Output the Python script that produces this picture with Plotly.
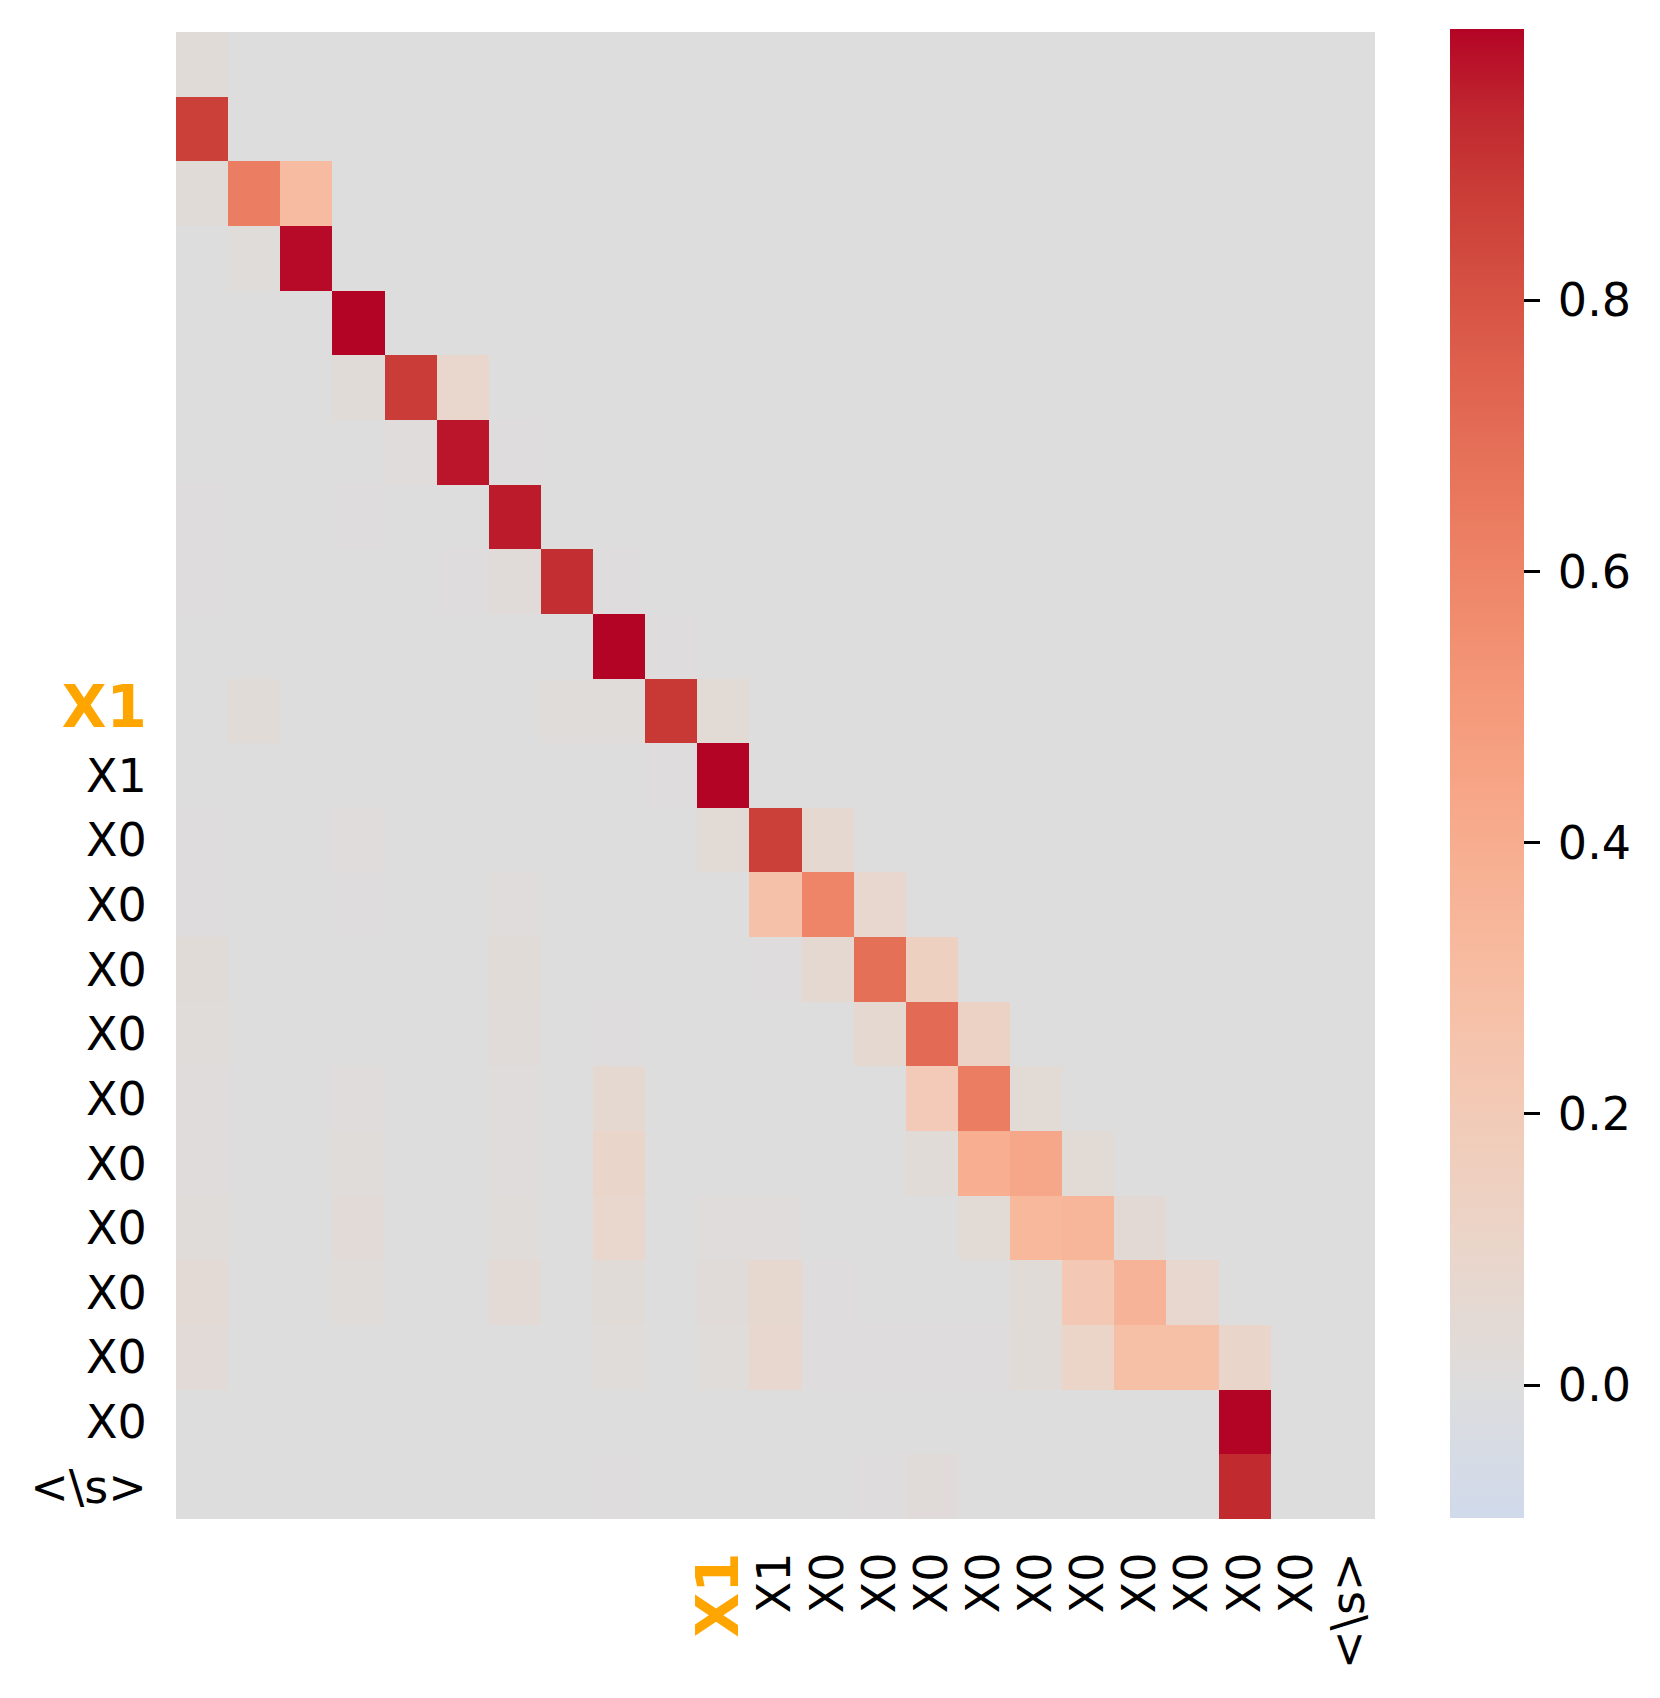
import plotly.graph_objects as go

# Token labels (rows = queries, columns = keys); first ten positions unlabeled
row_labels = [""] * 10 + ["X1*", "X1", "X0", "X0", "X0", "X0", "X0", "X0", "X0", "X0", "X0", "X0", "<\\s>"]
col_labels = [""] * 10 + ["X1*", "X1", "X0", "X0", "X0", "X0", "X0", "X0", "X0", "X0", "X0", "X0", "<\\s>"]

# attention weights, one list per row (23 x 23)
weights = [
    [0.03, 0, 0, 0, 0, 0, 0, 0, 0, 0, 0, 0, 0, 0, 0, 0, 0, 0, 0, 0, 0, 0, 0],
    [0.87, 0, 0, 0, 0, 0, 0, 0, 0, 0, 0, 0, 0, 0, 0, 0, 0, 0, 0, 0, 0, 0, 0],
    [0.03, 0.63, 0.31, 0, 0, 0, 0, 0, 0, 0, 0, 0, 0, 0, 0, 0, 0, 0, 0, 0, 0, 0, 0],
    [0, 0.015, 0.99, 0, 0, 0, 0, 0, 0, 0, 0, 0, 0, 0, 0, 0, 0, 0, 0, 0, 0, 0, 0],
    [0, 0, 0, 1.0, 0, 0, 0, 0, 0, 0, 0, 0, 0, 0, 0, 0, 0, 0, 0, 0, 0, 0, 0],
    [0, 0, 0, 0.03, 0.88, 0.09, 0, 0, 0, 0, 0, 0, 0, 0, 0, 0, 0, 0, 0, 0, 0, 0, 0],
    [0, 0, 0, 0, 0.01, 0.97, 0.005, 0, 0, 0, 0, 0, 0, 0, 0, 0, 0, 0, 0, 0, 0, 0, 0],
    [0.005, 0, 0, 0.005, 0, 0, 0.96, 0, 0, 0, 0, 0, 0, 0, 0, 0, 0, 0, 0, 0, 0, 0, 0],
    [0.005, 0, 0, 0, 0, 0.005, 0.025, 0.92, 0.005, 0, 0, 0, 0, 0, 0, 0, 0, 0, 0, 0, 0, 0, 0],
    [0, 0, 0, 0, 0, 0, 0, 0, 1.0, 0.005, 0, 0, 0, 0, 0, 0, 0, 0, 0, 0, 0, 0, 0],
    [0, 0.03, 0, 0, 0, 0, 0, 0.015, 0.02, 0.89, 0.04, 0, 0, 0, 0, 0, 0, 0, 0, 0, 0, 0, 0],
    [0, 0, 0, 0, 0, 0, 0, 0, 0, 0.005, 1.0, 0, 0, 0, 0, 0, 0, 0, 0, 0, 0, 0, 0],
    [0.005, 0, 0, 0.01, 0, 0, 0, 0, 0, 0, 0.04, 0.87, 0.06, 0, 0, 0, 0, 0, 0, 0, 0, 0, 0],
    [0.005, 0, 0, 0.005, 0, 0, 0.01, 0, 0, 0, 0, 0.27, 0.6, 0.08, 0, 0, 0, 0, 0, 0, 0, 0, 0],
    [0.03, 0, 0, 0, 0, 0, 0.03, 0, 0, 0, 0, 0.005, 0.06, 0.69, 0.15, 0, 0, 0, 0, 0, 0, 0, 0],
    [0.02, 0, 0, 0, 0, 0, 0.025, 0, 0.008, 0, 0, 0, 0, 0.06, 0.71, 0.13, 0, 0, 0, 0, 0, 0, 0],
    [0.01, 0, 0, 0.01, 0, 0, 0.01, 0, 0.06, 0, 0, 0, 0, 0, 0.2, 0.63, 0.04, 0, 0, 0, 0, 0, 0],
    [0.01, 0, 0, 0.015, 0, 0, 0.01, 0, 0.1, 0, 0, 0, 0, 0, 0.03, 0.39, 0.43, 0.04, 0, 0, 0, 0, 0],
    [0.015, 0, 0, 0.035, 0, 0, 0.015, 0, 0.09, 0, 0.01, 0.01, 0, 0, 0, 0.04, 0.33, 0.34, 0.05, 0, 0, 0, 0],
    [0.045, 0, 0, 0.02, 0, 0, 0.045, 0, 0.03, 0, 0.025, 0.07, 0.008, 0, 0, 0, 0.03, 0.21, 0.36, 0.08, 0, 0, 0],
    [0.035, 0, 0, 0, 0, 0, 0, 0, 0.02, 0, 0.02, 0.08, 0.008, 0.008, 0.008, 0.008, 0.03, 0.11, 0.28, 0.28, 0.1, 0, 0],
    [0, 0, 0, 0, 0, 0, 0, 0, 0, 0, 0, 0, 0, 0, 0, 0, 0, 0, 0, 0, 1.0, 0, 0],
    [0, 0, 0, 0, 0, 0, 0, 0, 0.005, 0, 0, 0, 0, 0.008, 0.025, 0, 0, 0, 0, 0, 0.93, 0, 0],
]

zmin, zmax = -0.098, 1.0
cbar_ticks = [0.0, 0.2, 0.4, 0.6, 0.8]

# coolwarm (Moreland) control points
cw = [
    (59, 76, 192), (68, 90, 204), (77, 104, 215), (87, 117, 225), (98, 130, 234),
    (108, 142, 241), (119, 154, 247), (130, 165, 251), (141, 176, 254), (152, 185, 255),
    (163, 194, 255), (174, 201, 253), (184, 208, 249), (194, 213, 244), (204, 217, 238),
    (213, 219, 230), (221, 221, 221), (229, 216, 209), (236, 211, 197), (241, 204, 185),
    (245, 196, 173), (247, 187, 160), (247, 177, 148), (247, 166, 135), (244, 154, 123),
    (241, 141, 111), (236, 127, 99), (229, 112, 88), (222, 96, 77), (213, 80, 66),
    (203, 62, 56), (192, 40, 47), (180, 4, 38),
]


def coolwarm(p):
    f = p * (len(cw) - 1)
    i = min(int(f), len(cw) - 2)
    t = f - i
    return tuple(cw[i][k] + (cw[i + 1][k] - cw[i][k]) * t for k in range(3))


# seaborn-style centering at 0
vrange = max(zmax, -zmin)
colorscale = []
n = 60
for j in range(n + 1):
    t = j / n
    v = zmin + t * (zmax - zmin)
    r, g, b = coolwarm(0.5 + v / (2 * vrange))
    colorscale.append([t, "rgb(%d,%d,%d)" % (round(r), round(g), round(b))])


def fmt(lbl):
    if lbl.endswith("*"):
        return "<b><span style='color:orange;font-size:58px'>%s</span></b>" % lbl[:-1]
    return lbl.replace("<", "&lt;").replace(">", "&gt;")


idx = list(range(len(weights)))

fig = go.Figure()
fig.add_trace(go.Heatmap(
    z=weights, x=idx, y=idx,
    zmin=zmin, zmax=zmax, colorscale=colorscale,
    xgap=0, ygap=0,
    colorbar=dict(
        thickness=74, len=1489, lenmode="pixels",
        x=1.0626, xanchor="left", xpad=0,
        y=0.0007, yanchor="bottom", ypad=0,
        outlinewidth=0,
        tickvals=cbar_ticks, ticktext=["\u2009%.1f" % v for v in cbar_ticks],
        ticks="outside", ticklen=16, tickwidth=2.5, tickcolor="black",
        tickfont=dict(size=46, color="black"),
    ),
))

# page body adds an 8px offset, margins compensate for it
fig.update_layout(
    width=1660, height=1698,
    margin=dict(l=168, r=293, t=24, b=187),
    paper_bgcolor="white", plot_bgcolor="white",
    font=dict(family="DejaVu Sans", size=46, color="black"),
)
fig.update_xaxes(
    tickvals=idx, ticktext=[fmt(s) for s in col_labels], tickangle=-90,
    range=[-0.5, len(idx) - 0.5], showgrid=False, zeroline=False,
    ticks="outside", ticklen=14, tickcolor="rgba(0,0,0,0)", automargin=False,
)
fig.update_yaxes(
    tickvals=idx, ticktext=[fmt(s) for s in row_labels],
    range=[len(idx) - 0.5, -0.5], showgrid=False, zeroline=False,
    ticks="outside", ticklen=19, tickcolor="rgba(0,0,0,0)", automargin=False,
)

fig.write_html("out.html")
